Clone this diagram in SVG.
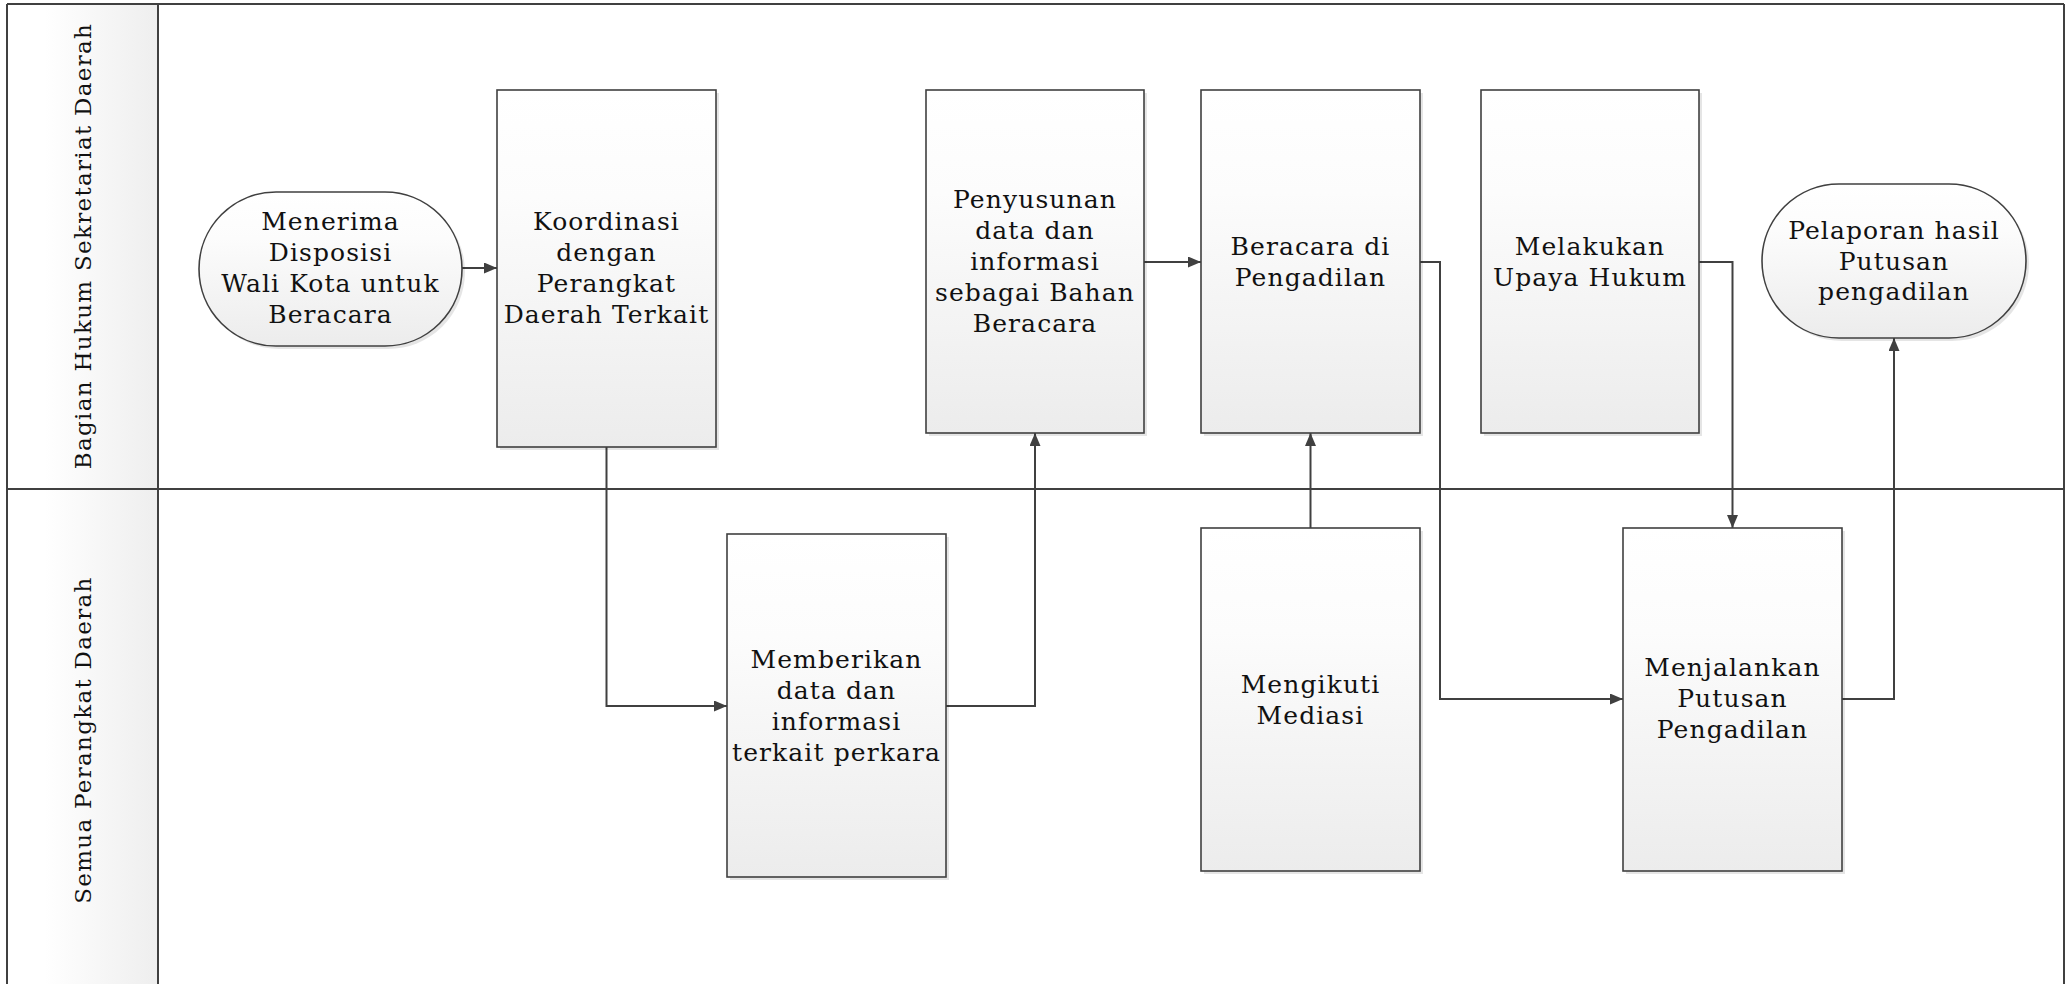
<svg xmlns="http://www.w3.org/2000/svg" width="2066" height="984" viewBox="0 0 2066 984">
<defs>
<linearGradient id="boxg" x1="0" y1="0" x2="0" y2="1">
<stop offset="0" stop-color="#ffffff"/>
<stop offset="0.3" stop-color="#fcfcfc"/>
<stop offset="1" stop-color="#ececec"/>
</linearGradient>
<linearGradient id="hdrg" x1="0" y1="0" x2="1" y2="0">
<stop offset="0" stop-color="#ffffff"/>
<stop offset="0.25" stop-color="#ffffff"/>
<stop offset="1" stop-color="#eeeeee"/>
</linearGradient>
<marker id="arr" markerUnits="userSpaceOnUse" markerWidth="14" markerHeight="12" refX="13" refY="5.5" orient="auto">
<path d="M0,0 L13,5.5 L0,11 z" fill="#404040"/>
</marker>
</defs>
<style>
.lane{fill:none;stroke:#404040;stroke-width:2}
.box{fill:url(#boxg);stroke:#404040;stroke-width:1.6}
.sh{fill:#000;opacity:0.10}
.t{font-family:"DejaVu Serif","Liberation Serif",serif;font-size:25px;fill:#111;text-anchor:middle;letter-spacing:1.1px}
.lt{font-family:"DejaVu Serif","Liberation Serif",serif;font-size:23px;fill:#111;text-anchor:middle;letter-spacing:1.3px}
.c{fill:none;stroke:#404040;stroke-width:2;marker-end:url(#arr)}
</style>
<rect x="0" y="0" width="2066" height="984" fill="#ffffff"/>
<g id="lanes">
<rect x="7" y="4" width="151" height="985" fill="url(#hdrg)"/>
<line class="lane" x1="7" y1="4" x2="2064" y2="4"/>
<line class="lane" x1="7" y1="4" x2="7" y2="984"/>
<line class="lane" x1="158" y1="4" x2="158" y2="984"/>
<line class="lane" x1="2064" y1="4" x2="2064" y2="984"/>
<line class="lane" x1="7" y1="489" x2="2064" y2="489"/>
<text class="lt" transform="translate(91,246) rotate(-90)">Bagian Hukum Sekretariat Daerah</text>
<text class="lt" transform="translate(91,740) rotate(-90)">Semua Perangkat Daerah</text>
</g>
<g id="connectors">
<path class="c" d="M462,268 L497,268"/>
<path class="c" d="M606.5,447 L606.5,706 L727,706"/>
<path class="c" d="M946,706 L1035,706 L1035,433"/>
<path class="c" d="M1144,262 L1201,262"/>
<path class="c" d="M1310.5,528 L1310.5,433"/>
<path class="c" d="M1420,262 L1440,262 L1440,699 L1623,699"/>
<path class="c" d="M1699,262 L1732.5,262 L1732.5,528"/>
<path class="c" d="M1842,699 L1894,699 L1894,338"/>
</g>
<g id="n-start">
<rect class="sh" x="202" y="195" width="263" height="154" rx="77"/>
<rect class="box" x="199" y="192" width="263" height="154" rx="77"/>
<text class="t" x="330.5" y="230">Menerima</text>
<text class="t" x="330.5" y="261">Disposisi</text>
<text class="t" x="330.5" y="292">Wali Kota untuk</text>
<text class="t" x="330.5" y="323">Beracara</text>
</g>
<g id="n-koordinasi">
<rect class="sh" x="500" y="93" width="219" height="357"/>
<rect class="box" x="497" y="90" width="219" height="357"/>
<text class="t" x="606.5" y="230">Koordinasi</text>
<text class="t" x="606.5" y="261">dengan</text>
<text class="t" x="606.5" y="292">Perangkat</text>
<text class="t" x="606.5" y="323">Daerah Terkait</text>
</g>
<g id="n-penyusunan">
<rect class="sh" x="929" y="93" width="218" height="343"/>
<rect class="box" x="926" y="90" width="218" height="343"/>
<text class="t" x="1035" y="208">Penyusunan</text>
<text class="t" x="1035" y="239">data dan</text>
<text class="t" x="1035" y="270">informasi</text>
<text class="t" x="1035" y="301">sebagai Bahan</text>
<text class="t" x="1035" y="332">Beracara</text>
</g>
<g id="n-beracara">
<rect class="sh" x="1204" y="93" width="219" height="343"/>
<rect class="box" x="1201" y="90" width="219" height="343"/>
<text class="t" x="1310.5" y="255">Beracara di</text>
<text class="t" x="1310.5" y="286">Pengadilan</text>
</g>
<g id="n-melakukan">
<rect class="sh" x="1484" y="93" width="218" height="343"/>
<rect class="box" x="1481" y="90" width="218" height="343"/>
<text class="t" x="1590" y="255">Melakukan</text>
<text class="t" x="1590" y="286">Upaya Hukum</text>
</g>
<g id="n-pelaporan">
<rect class="sh" x="1765" y="187" width="264" height="154" rx="77"/>
<rect class="box" x="1762" y="184" width="264" height="154" rx="77"/>
<text class="t" x="1894" y="239">Pelaporan hasil</text>
<text class="t" x="1894" y="270">Putusan</text>
<text class="t" x="1894" y="300">pengadilan</text>
</g>
<g id="n-memberikan">
<rect class="sh" x="730" y="537" width="219" height="343"/>
<rect class="box" x="727" y="534" width="219" height="343"/>
<text class="t" x="836.5" y="668">Memberikan</text>
<text class="t" x="836.5" y="699">data dan</text>
<text class="t" x="836.5" y="730">informasi</text>
<text class="t" x="836.5" y="761">terkait perkara</text>
</g>
<g id="n-mengikuti">
<rect class="sh" x="1204" y="531" width="219" height="343"/>
<rect class="box" x="1201" y="528" width="219" height="343"/>
<text class="t" x="1310.5" y="693">Mengikuti</text>
<text class="t" x="1310.5" y="724">Mediasi</text>
</g>
<g id="n-menjalankan">
<rect class="sh" x="1626" y="531" width="219" height="343"/>
<rect class="box" x="1623" y="528" width="219" height="343"/>
<text class="t" x="1732.5" y="676">Menjalankan</text>
<text class="t" x="1732.5" y="707">Putusan</text>
<text class="t" x="1732.5" y="738">Pengadilan</text>
</g>
</svg>
